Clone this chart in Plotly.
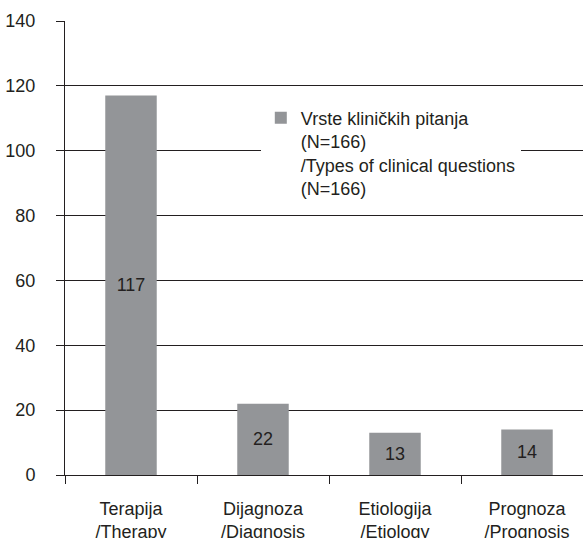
import plotly.graph_objects as go

categories = ["Terapija<br>/Therapy", "Dijagnoza<br>/Diagnosis", "Etiologija<br>/Etiology", "Prognoza<br>/Prognosis"]
values = [117, 22, 13, 14]
series_name = "Vrste kliničkih pitanja<br>(N=166)<br>/Types of clinical questions<br>(N=166)"
y_ticks = [0, 20, 40, 60, 80, 100, 120, 140]

FONT = "Arial, Liberation Sans, Helvetica, sans-serif"
DARK = "#231f20"
BAR = "#939598"
FS = 18

fig = go.Figure()
fig.add_trace(go.Bar(
    x=categories, y=values, name=series_name,
    marker=dict(color=BAR, line=dict(width=0)),
    width=0.39,
    text=[str(v) for v in values],
    textposition="inside", insidetextanchor="middle",
    textfont=dict(color=DARK, size=FS, family=FONT),
    constraintext="none",
    showlegend=True,
))

fig.update_layout(
    width=583, height=538,
    margin=dict(l=65, r=0, t=21, b=63),
    paper_bgcolor="white", plot_bgcolor="white",
    font=dict(family=FONT, color=DARK, size=FS),
    showlegend=True,
    legend=dict(
        x=0.378, y=0.827, xanchor="left", yanchor="top",
        bgcolor="white", borderwidth=0, valign="top",
        font=dict(size=FS, color=DARK, family=FONT),
        itemclick=False,
    ),
    xaxis=dict(
        range=[-0.5, -0.5 + 518 / 132],
        showline=True, linecolor=DARK, linewidth=1,
        ticks="outside", ticklen=8, tickcolor=DARK, tickwidth=1,
        tickson="boundaries",
        showgrid=False, zeroline=False,
        tickfont=dict(size=FS, color=DARK, family=FONT),
        ticklabelstandoff=17,
        automargin=False,
        fixedrange=True,
    ),
    yaxis=dict(
        range=[0, 140], tickvals=y_ticks,
        showline=True, linecolor=DARK, linewidth=1,
        ticks="outside", ticklen=8, tickcolor=DARK, tickwidth=1,
        showgrid=True, gridcolor=DARK, gridwidth=1,
        zeroline=False,
        tickfont=dict(size=FS, color=DARK, family=FONT),
        ticklabelstandoff=17,
        automargin=False,
        fixedrange=True,
    ),
    bargap=0.61,
)

fig.write_html(
    "out.html",
    config={"displayModeBar": False},
    post_script="document.body.style.margin='0';document.body.style.overflow='hidden';",
)
